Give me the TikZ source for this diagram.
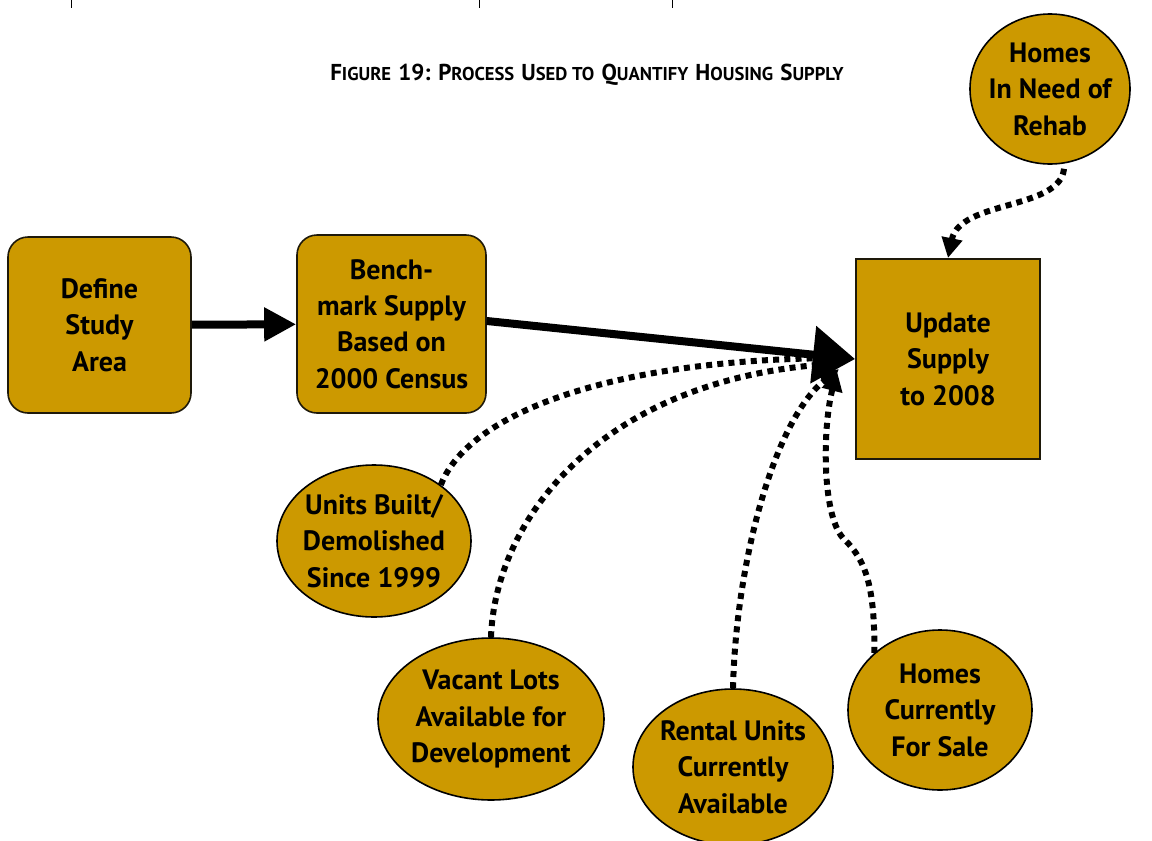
\documentclass[tikz,border=0pt]{standalone}
\usepackage{fontspec}
\setmainfont{PT Sans}
\usetikzlibrary{shapes.geometric,arrows.meta,calc}
\definecolor{gold}{RGB}{204,153,0}
\definecolor{edge}{RGB}{30,25,10}
\newcommand\capbig[1]{{\fontsize{11.5}{12}\selectfont #1}}
\newcommand\capsmall[1]{{\fontsize{9.3}{12}\selectfont #1}}
\tikzset{
  every node/.style={font=\bfseries\fontsize{14}{18.25}\selectfont, align=center, inner sep=0pt},
  roundbox/.style={draw=edge, line width=0.8pt, fill=gold, rounded corners=10pt},
  squarebox/.style={draw=edge, line width=1pt, fill=gold},
  oval/.style={ellipse, draw=black, line width=0.8pt, fill=gold, inner sep=-20pt},
  mainflow/.style={line width=4pt, -{Triangle[length=16pt,width=16pt]}},
  bigflow/.style={line width=4pt, -{Triangle[length=21pt,width=28pt]}},
  feed/.style={line width=3pt, dash pattern=on 3pt off 2.6pt, -{Triangle[length=10pt,width=10pt]}},
  tick/.style={line width=0.5pt}
}
\begin{document}
\begin{tikzpicture}[x=0.5pt,y=-0.5pt]
\useasboundingbox (0,0) rectangle (1152,841);

% page ticks
\draw[tick] (71,0) -- (71,8);
\draw[tick] (479,0) -- (479,8);
\draw[tick] (672,0) -- (672,8);

% title
\node (title) at (587,75) {\capbig{F}\capsmall{IGURE} \capbig{19: P}\capsmall{ROCESS} \capbig{U}\capsmall{SED TO} \capbig{Q}\capsmall{UANTIFY} \capbig{H}\capsmall{OUSING} \capbig{S}\capsmall{UPPLY}};

% process boxes
\node[roundbox, minimum width=91.5pt, minimum height=88pt] (def) at (99.5,325) {Define\\Study\\Area};
\node[roundbox, minimum width=94.5pt, minimum height=89pt] (bench) at (391.5,324) {Bench-\\mark Supply\\Based on\\2000 Census};
\node[squarebox, minimum width=92pt, minimum height=100pt] (upd) at (948,359) {Update\\Supply\\to 2008};

% inputs
\node[oval, minimum width=80pt, minimum height=75pt] (rehab) at (1050,89) {Homes\\In Need of\\Rehab};
\node[oval, minimum width=97pt, minimum height=76pt] (built) at (374,541) {Units Built/\\Demolished\\Since 1999};
\node[oval, minimum width=113pt, minimum height=81pt] (vacant) at (491,719) {Vacant Lots\\Available for\\Development};
\node[oval, minimum width=100pt, minimum height=78pt] (rental) at (733,767) {Rental Units\\Currently\\Available};
\node[oval, minimum width=92pt, minimum height=80pt] (sale) at (940,710) {Homes\\Currently\\For Sale};

% dotted feeds
\draw[feed] ($(rehab.south)+(14,4)$) .. controls (1060,210) and (960,200) .. (upd.north);
\draw[feed] (built.40) .. controls (470,410) and (620,360) .. ($(upd.west)+(-8,-1)$);
\draw[feed] (vacant.north) .. controls (495,520) and (600,380) .. ($(upd.west)+(-10,4)$);
\draw[feed] (rental.north) .. controls (736,560) and (775,420) .. ($(upd.west)+(-16,10)$);
\draw[feed] (sale.139) .. controls (875,585) and (865,560) .. (845,540)
            .. controls (822,520) and (822,430) .. ($(upd.west)+(-18,12)$);

% main flow
\draw[mainflow] (def) -- (bench);
\draw[bigflow] ($(bench.east)+(0,-3)$) -- (upd.west);
\end{tikzpicture}
\end{document}
